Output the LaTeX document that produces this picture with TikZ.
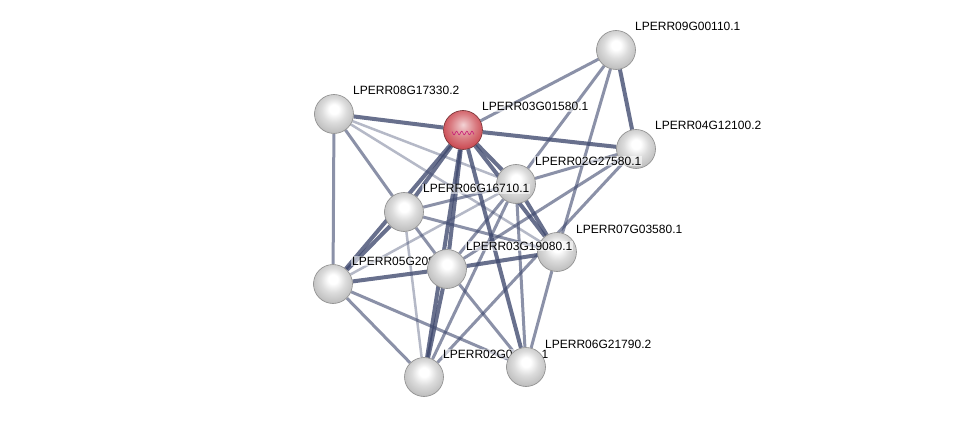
\documentclass[tikz,border=0pt]{standalone}
\usepackage{fontspec}
\setmainfont{Liberation Sans}
\usepackage{xcolor}
\usepackage{tikz}
\usetikzlibrary{backgrounds}
\definecolor{edgeblue}{RGB}{62, 72, 110}
\definecolor{seedred}{RGB}{205, 80, 88}
\definecolor{foldpink}{RGB}{200, 30, 120}
\pgfdeclareradialshading{glassball}{\pgfpoint{0bp}{7bp}}{color(0bp)=(white); color(6bp)=(white); color(16bp)=(black!14); color(26bp)=(black!24); color(32bp)=(black!38); color(50bp)=(black!38)}
\pgfdeclareradialshading{seedball}{\pgfpoint{0bp}{7bp}}{color(0bp)=(seedred!25!white); color(6bp)=(seedred!45!white); color(16bp)=(seedred!75!white); color(26bp)=(seedred); color(32bp)=(seedred!70!black); color(50bp)=(seedred!70!black)}

\begin{document}
\begin{tikzpicture}[x=1pt, y=-1pt,
    ball/.style={circle, minimum size=39pt, inner sep=0pt, draw=black!45, line width=0.6pt, shading=glassball},
    seed/.style={ball, draw=seedred!55!black, shading=seedball},
    lbl/.style={anchor=base west, inner sep=1pt, fill=white, fill opacity=0.55, text opacity=1, font=\fontsize{12}{14}\selectfont},
    strong/.style={draw=edgeblue, line width=4pt, opacity=0.78},
    mid/.style={draw=edgeblue, line width=3pt, opacity=0.6},
    weak/.style={draw=edgeblue, line width=2.5pt, opacity=0.38}
]
    \useasboundingbox (0,0) rectangle (976,422);

    % proteins, each with its label
    \node[ball] (p09) at (616,50) {};
    \node[lbl] at ([shift={(18,-19)}]p09.center) {LPERR09G00110.1};
    \node[ball] (p08) at (334,114) {};
    \node[lbl] at ([shift={(18,-19)}]p08.center) {LPERR08G17330.2};
    \node[seed] (p03a) at (463,130) {};
    \draw[foldpink, line width=0.6pt] plot[domain=-11:11, samples=40] ({463+\x}, {133+1.8*sin(\x*70)});
    \node[lbl] at ([shift={(18,-19)}]p03a.center) {LPERR03G01580.1};
    \node[ball] (p04) at (636,149) {};
    \node[lbl] at ([shift={(18,-19)}]p04.center) {LPERR04G12100.2};
    \node[ball] (p02a) at (516,184) {};
    \node[lbl] at ([shift={(18,-19)}]p02a.center) {LPERR02G27580.1};
    \node[ball] (p06a) at (404,212) {};
    \node[lbl] at ([shift={(18,-19)}]p06a.center) {LPERR06G16710.1};
    \node[ball] (p07) at (557,252) {};
    \node[lbl] at ([shift={(18,-19)}]p07.center) {LPERR07G03580.1};
    \node[ball] (p05) at (333,284) {};
    \node[lbl] at ([shift={(18,-19)}]p05.center) {LPERR05G20860.1};
    \node[ball] (p03b) at (447,269) {};
    \node[lbl] at ([shift={(18,-19)}]p03b.center) {LPERR03G19080.1};
    \node[ball] (p02b) at (424,377) {};
    \node[lbl] at ([shift={(18,-19)}]p02b.center) {LPERR02G04411.1};
    \node[ball] (p06b) at (526,367) {};
    \node[lbl] at ([shift={(18,-19)}]p06b.center) {LPERR06G21790.2};

    % interactions
    \begin{scope}[on background layer]
        \fill[white] (0,0) rectangle (976,422);
        \draw[weak] (p08) -- (p02a);
        \draw[weak] (p08) -- (p07);
        \draw[weak] (p06a) -- (p02b);
        \draw[weak] (p05) -- (p02a);
        \draw[mid] (p03a) -- (p09);
        \draw[mid] (p09) -- (p07);
        \draw[mid] (p09) -- (p02a);
        \draw[mid] (p04) -- (p02a);
        \draw[mid] (p04) -- (p03b);
        \draw[mid] (p04) -- (p02b);
        \draw[mid] (p08) -- (p06a);
        \draw[mid] (p08) -- (p05);
        \draw[mid] (p05) -- (p02b);
        \draw[mid] (p05) -- (p06b);
        \draw[mid] (p06a) -- (p02a);
        \draw[mid] (p06a) -- (p07);
        \draw[mid] (p06a) -- (p03b);
        \draw[mid] (p02a) -- (p03b);
        \draw[mid] (p02a) -- (p02b);
        \draw[mid] (p02a) -- (p06b);
        \draw[mid] (p07) -- (p06b);
        \draw[mid] (p03b) -- (p06b);
        \draw[strong] (p03a) -- (p08);
        \draw[strong] (p03a) -- (p04);
        \draw[strong] (p03a) -- (p02a);
        \draw[strong] (p03a) -- (p06a);
        \draw[strong] (p03a) -- (p05);
        \draw[strong] (p03a) -- (p03b);
        \draw[strong] (p03a) -- (p02b);
        \draw[strong] (p03a) -- (p06b);
        \draw[strong] (p03a) -- (p07);
        \draw[strong] (p09) -- (p04);
        \draw[strong] (p03b) -- (p07);
        \draw[strong] (p05) -- (p03b);
        \draw[strong] (p03b) -- (p02b);
        \draw[strong] (p02a) -- (p07);
        \draw[strong] (p06a) -- (p05);
    \end{scope}
\end{tikzpicture}
\end{document}
